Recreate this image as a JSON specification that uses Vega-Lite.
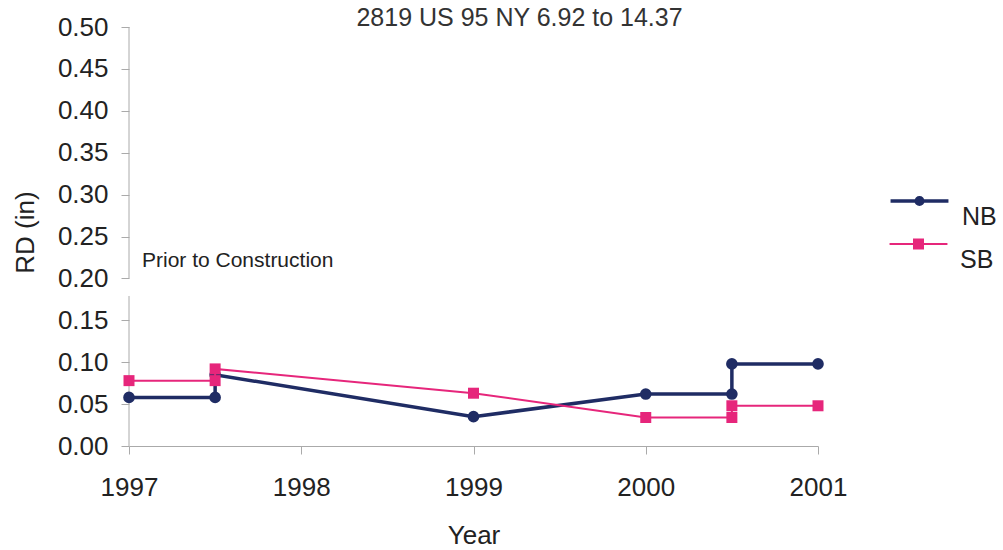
{
  "$schema": "https://vega.github.io/schema/vega-lite/v6.json",
  "width": 689,
  "height": 419,
  "autosize": {"type": "none"},
  "padding": {"left": 129, "top": 27, "right": 185, "bottom": 104},
  "background": "white",
  "config": {"view": {"stroke": null}, "font": "Liberation Sans"},
  "title": {"text": "2819 US 95 NY 6.92 to 14.37", "fontSize": 25, "fontWeight": "normal", "font": "Liberation Sans", "color": "#333", "anchor": "middle", "dx": 46, "baseline": "alphabetic", "offset": -37},
  "datasets": {
    "rd": [
      {"series": "NB", "i": 1, "year": 1997.0, "rd": 0.058},
      {"series": "NB", "i": 2, "year": 1997.5, "rd": 0.058},
      {"series": "NB", "i": 3, "year": 1997.5, "rd": 0.085},
      {"series": "NB", "i": 4, "year": 1999.0, "rd": 0.035},
      {"series": "NB", "i": 5, "year": 2000.0, "rd": 0.062},
      {"series": "NB", "i": 6, "year": 2000.5, "rd": 0.062},
      {"series": "NB", "i": 7, "year": 2000.5, "rd": 0.098},
      {"series": "NB", "i": 8, "year": 2001.0, "rd": 0.098},
      {"series": "SB", "i": 1, "year": 1997.0, "rd": 0.078},
      {"series": "SB", "i": 2, "year": 1997.5, "rd": 0.078},
      {"series": "SB", "i": 3, "year": 1997.5, "rd": 0.092},
      {"series": "SB", "i": 4, "year": 1999.0, "rd": 0.063},
      {"series": "SB", "i": 5, "year": 2000.0, "rd": 0.034},
      {"series": "SB", "i": 6, "year": 2000.5, "rd": 0.034},
      {"series": "SB", "i": 7, "year": 2000.5, "rd": 0.048},
      {"series": "SB", "i": 8, "year": 2001.0, "rd": 0.048}
    ],
    "axisline": [
      {"year": 1997, "rd": 0, "rd2": 0.179},
      {"year": 1997, "rd": 0.2, "rd2": 0.5}
    ],
    "note": [
      {"year": 1997, "rd": 0.2136, "label": "Prior to Construction"}
    ]
  },
  "encoding": {
    "x": {
      "field": "year", "type": "quantitative",
      "scale": {"domain": [1997, 2001], "nice": false, "zero": false},
      "axis": {"title": "Year", "values": [1997, 1998, 1999, 2000, 2001], "format": "d", "grid": false, "labelFlush": false,
        "domainColor": "#aaa", "tickColor": "#aaa", "tickSize": 8, "labelFontSize": 26, "labelPadding": 20, "labelColor": "#222", "labelFont": "Liberation Sans",
        "titleFontSize": 26, "titleFontWeight": "normal", "titleColor": "#222", "titleFont": "Liberation Sans", "titleY": 89, "titleBaseline": "middle"}
    },
    "y": {
      "field": "rd", "type": "quantitative",
      "scale": {"domain": [0, 0.5], "nice": false, "zero": true},
      "axis": {"title": "RD (in)", "values": [0, 0.05, 0.1, 0.15, 0.2, 0.25, 0.3, 0.35, 0.4, 0.45, 0.5], "format": ".2f", "grid": false, "domain": false,
        "tickColor": "#aaa", "tickSize": 8, "labelPadding": 13, "labelFontSize": 26, "labelColor": "#222", "labelFont": "Liberation Sans",
        "titleFontSize": 26, "titleFontWeight": "normal", "titleColor": "#222", "titleFont": "Liberation Sans", "titleX": -104, "titleY": 205, "titleAngle": -90, "titleAlign": "center", "titleBaseline": "middle"}
    }
  },
  "layer": [
    {
      "data": {"name": "axisline"},
      "mark": {"type": "rule", "color": "#aaa", "strokeWidth": 1},
      "encoding": {"y2": {"field": "rd2"}}
    },
    {
      "data": {"name": "note"},
      "mark": {"type": "text", "align": "left", "baseline": "alphabetic", "dx": 13, "fontSize": 21, "font": "Liberation Sans", "color": "#222"},
      "encoding": {"text": {"field": "label"}}
    },
    {
      "data": {"name": "rd"},
      "transform": [{"filter": "datum.series === 'NB'"}],
      "encoding": {
        "color": {"field": "series", "type": "nominal",
          "scale": {"domain": ["NB"], "range": ["#1F2C64"]},
          "legend": {"orient": "none", "legendX": 773.5, "legendY": 161, "title": null, "symbolSize": 900,
            "symbolType": "M-1.93,-0.267H1.93M0.22,-0.267A0.22,0.22,0,1,1,-0.22,-0.267A0.22,0.22,0,1,1,0.22,-0.267Z",
            "symbolFillColor": "#1F2C64", "symbolStrokeColor": "#1F2C64", "symbolStrokeWidth": 3.5, "symbolOpacity": 1,
            "labelFontSize": 25, "labelFont": "Liberation Sans", "labelColor": "#222", "labelOffset": 25.5, "labelBaseline": "top", "padding": 0,
            "encode": {"symbols": {"update": {"fill": {"value": "#1F2C64"}, "stroke": {"value": "#1F2C64"}, "strokeWidth": {"value": 3.5}}}}}}
      },
      "layer": [
        {"mark": {"type": "line", "strokeWidth": 3.5}, "encoding": {"order": {"field": "i"}}},
        {"mark": {"type": "point", "filled": true, "opacity": 1, "size": 135, "shape": "circle"}}
      ]
    },
    {
      "data": {"name": "rd"},
      "transform": [{"filter": "datum.series === 'SB'"}],
      "encoding": {
        "color": {"field": "series", "type": "nominal",
          "scale": {"domain": ["SB"], "range": ["#E6267B"]},
          "legend": {"orient": "none", "legendX": 773.5, "legendY": 205, "title": null, "symbolSize": 900,
            "symbolType": "M-1.93,-0.267H1.93M-0.3,-0.567H0.3V0.033H-0.3Z",
            "symbolFillColor": "#E6267B", "symbolStrokeColor": "#E6267B", "symbolStrokeWidth": 2, "symbolOpacity": 1,
            "labelFontSize": 25, "labelFont": "Liberation Sans", "labelColor": "#222", "labelOffset": 25.5, "labelBaseline": "top", "padding": 0,
            "encode": {"symbols": {"update": {"fill": {"value": "#E6267B"}, "stroke": {"value": "#E6267B"}, "strokeWidth": {"value": 2}}}}}}
      },
      "layer": [
        {"mark": {"type": "line", "strokeWidth": 2}, "encoding": {"order": {"field": "i"}}},
        {"mark": {"type": "point", "filled": true, "opacity": 1, "size": 121, "shape": "square"}}
      ]
    }
  ],
  "resolve": {"scale": {"color": "independent"}}
}
